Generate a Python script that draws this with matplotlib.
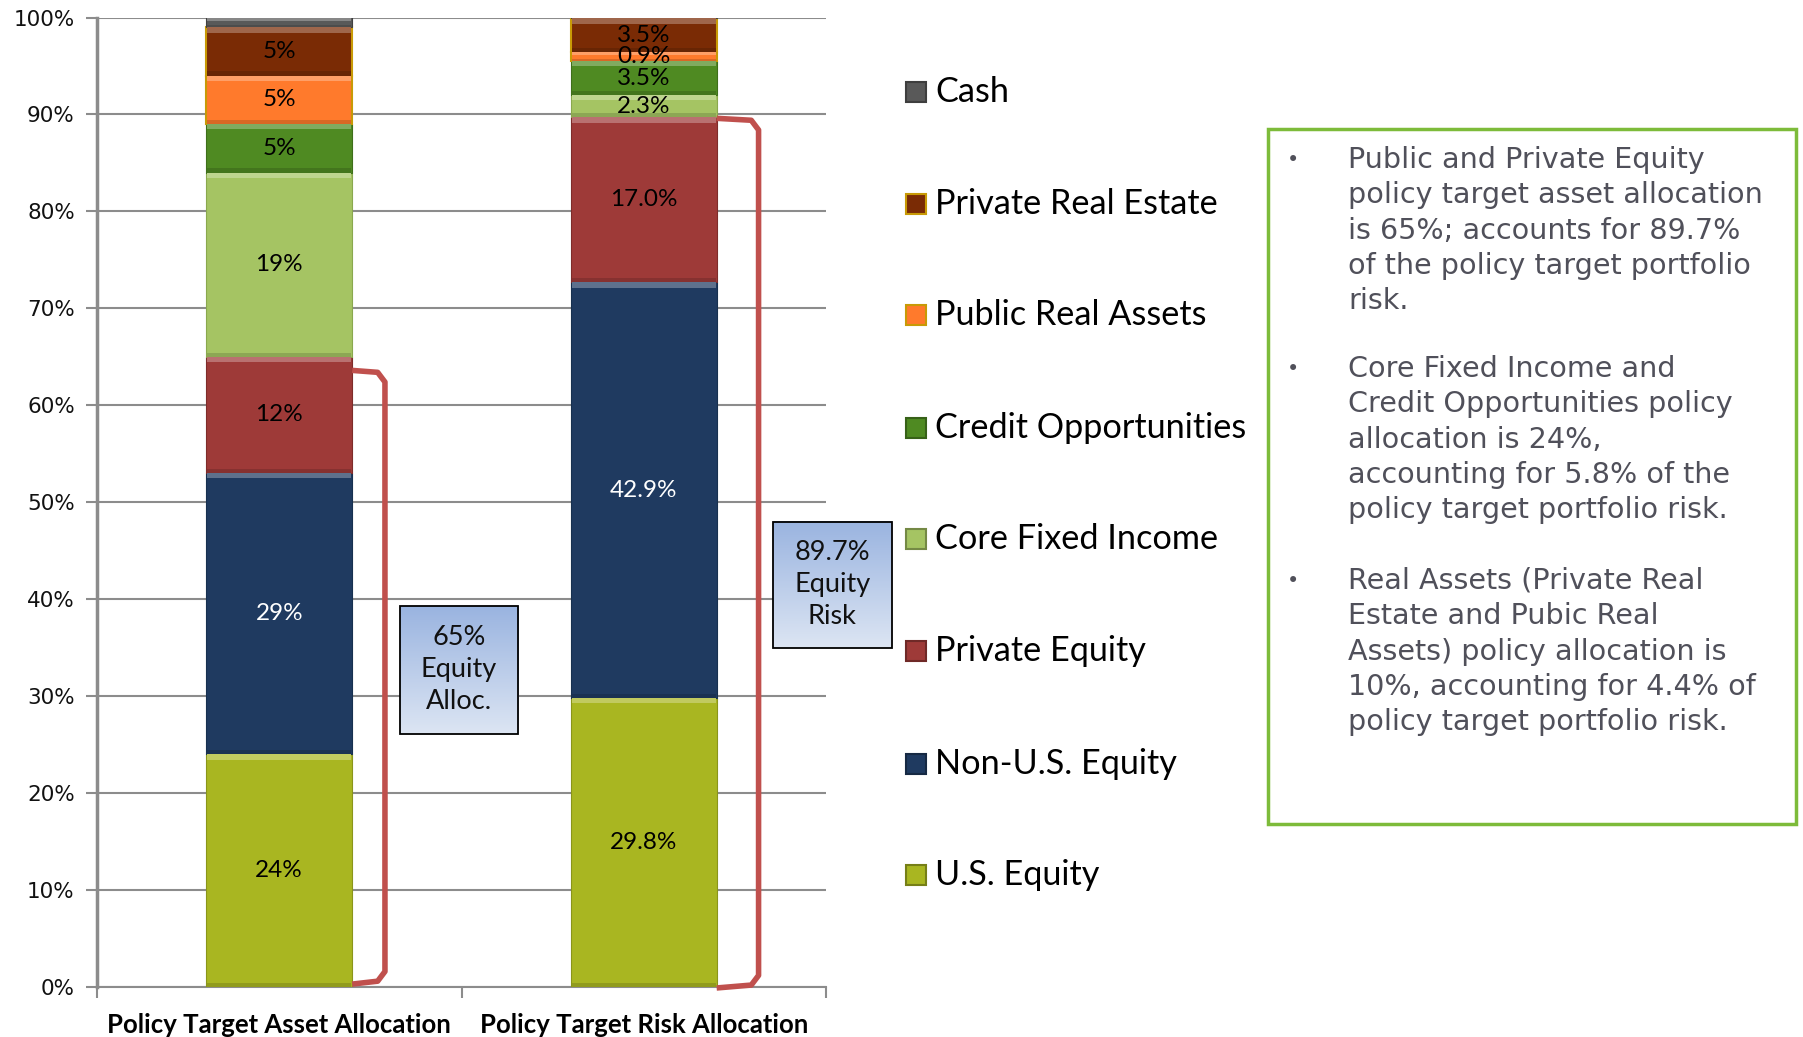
import matplotlib
matplotlib.use("Agg")
import matplotlib.pyplot as plt
import numpy as np
from matplotlib.patches import Rectangle
import matplotlib.colors as mcolors

# ---------------- data ----------------
categories = ["Policy Target Asset Allocation", "Policy Target Risk Allocation"]
series = ["U.S. Equity", "Non-U.S. Equity", "Private Equity", "Core Fixed Income",
          "Credit Opportunities", "Public Real Assets", "Private Real Estate", "Cash"]
asset_alloc = [24, 29, 12, 19, 5, 5, 5, 1]
risk_alloc = [29.8, 42.9, 17.0, 2.3, 3.5, 0.9, 3.5, 0.1]
asset_labels = ["24%", "29%", "12%", "19%", "5%", "5%", "5%", ""]
risk_labels = ["29.8%", "42.9%", "17.0%", "2.3%", "3.5%", "0.9%", "3.5%", ""]
yticks = [0, 10, 20, 30, 40, 50, 60, 70, 80, 90, 100]
ytick_labels = ["0%", "10%", "20%", "30%", "40%", "50%", "60%", "70%", "80%", "90%", "100%"]
equity_alloc_total = 65
equity_risk_total = 89.7
box_texts = ["65%\nEquity\nAlloc.", "89.7%\nEquity\nRisk"]
notes = [
    ["Public and Private Equity", "policy target asset allocation",
     "is 65%; accounts for 89.7%", "of the policy target portfolio", "risk."],
    ["Core Fixed Income and", "Credit Opportunities policy",
     "allocation is 24%,", "accounting for 5.8% of the", "policy target portfolio risk."],
    ["Real Assets (Private Real", "Estate and Pubic Real",
     "Assets) policy allocation is", "10%, accounting for 4.4% of", "policy target portfolio risk."],
]

# ---------------- styles ----------------
colors = ["#A9B621", "#1F3A60", "#9E3A38", "#A5C463", "#4F8A22", "#FF7A2C", "#7A2B05", "#595959"]
edges = ["#8A951A", "#17304F", "#7E2C2A", "#8AA84E", "#3E6F1A", "#C89A06", "#C89A06", "#404040"]
label_colors = ["black", "white", "black", "black", "black", "black", "black", "black"]

W, H = 1803, 1037
fig = plt.figure(figsize=(W / 100, H / 100), dpi=100)
ax = fig.add_axes([97 / W, 1 - 987 / H, (826 - 97) / W, (987 - 17.5) / H])
ax.set_xlim(-0.5, 1.5)
ax.set_ylim(0, 100)

gridc = "#8C8C8C"
ax.set_yticks(yticks)
ax.set_yticklabels(ytick_labels, fontfamily="DejaVu Sans", fontsize=15.5, color="#111111")
ax.yaxis.grid(True, color=gridc, linewidth=1.5)
ax.set_axisbelow(True)
ax.tick_params(axis="y", length=8, width=1.5, color=gridc, pad=8)
ax.set_xticks([0, 1])
ax.set_xticklabels(categories, fontfamily="Lato", fontweight="bold", fontsize=18.5)
ax.set_xticks([-0.5, 0.5, 1.5], minor=True)
ax.tick_params(axis="x", which="major", length=0, pad=19)
ax.tick_params(axis="x", which="minor", length=8, width=1.5, color=gridc)
for s in ["top", "right"]:
    ax.spines[s].set_visible(False)
ax.spines["left"].set_color(gridc)
ax.spines["left"].set_linewidth(2.5)
ax.spines["bottom"].set_color(gridc)
ax.spines["bottom"].set_linewidth(1.5)

bw = 0.40
data = [asset_alloc, risk_alloc]
labels = [asset_labels, risk_labels]
xpos = np.arange(len(categories))

def lighten(c, f):
    r = np.array(mcolors.to_rgb(c))
    return tuple(r + (1 - r) * f)

def darken(c, f):
    r = np.array(mcolors.to_rgb(c))
    return tuple(r * (1 - f))

for ci, vals in enumerate(data):
    bottom = 0.0
    for si, v in enumerate(vals):
        ax.bar(xpos[ci], v, bw, bottom=bottom, color=colors[si],
               edgecolor=edges[si], linewidth=1.5 if si in (5, 6) else 0.8, zorder=3)
        band = min(0.55, v / 3)
        ax.bar(xpos[ci], band, bw * 0.985, bottom=bottom + v - band,
               color=lighten(colors[si], 0.28), linewidth=0, zorder=3.5)
        ax.bar(xpos[ci], band * 0.8, bw * 0.985, bottom=bottom,
               color=darken(colors[si], 0.15), linewidth=0, zorder=3.5)
        if labels[ci][si]:
            ax.text(xpos[ci], bottom + v / 2, labels[ci][si], ha="center", va="center",
                    fontfamily="Lato", fontsize=17.5, color=label_colors[si], zorder=5)
        bottom += v

# brackets
red = "#C0504D"
def bracket(xc, xv, ytop, ybot):
    ax.plot([xc, xv - 0.02, xv, xv, xv - 0.02, xc],
            [ytop, ytop - 0.2, ytop - 1.2, ybot + 1.0, ybot, ybot - 0.3],
            color=red, linewidth=4, solid_joinstyle="round", solid_capstyle="butt",
            clip_on=False, zorder=4)

bracket(0.2, 0.29, equity_alloc_total - 1.4, 0.6)
bracket(1.2, 1.315, equity_risk_total - 0.1, 0.2)

# gradient text boxes
grad = np.linspace(0, 1, 100).reshape(-1, 1)
cmap = mcolors.LinearSegmentedColormap.from_list("bx", ["#DCE5F3", "#9AB4E0"])
def gbox(x0, x1, y0, y1, txt):
    ax.imshow(grad, extent=[x0, x1, y0, y1], origin="lower", cmap=cmap, aspect="auto",
              zorder=4, clip_on=False)
    ax.add_patch(Rectangle((x0, y0), x1 - x0, y1 - y0, fill=False, edgecolor="black",
                           linewidth=1.3, zorder=4.5, clip_on=False))
    ax.text((x0 + x1) / 2, (y0 + y1) / 2, txt, ha="center", va="center", fontfamily="Lato",
            fontsize=19.5, linespacing=1.35, color="#111111", zorder=5, clip_on=False)

gbox(0.33, 0.655, 26.1, 39.3, box_texts[0])
gbox(1.355, 1.68, 35.0, 48.0, box_texts[1])
ax.set_xlim(-0.5, 1.5)
ax.set_ylim(0, 100)

# legend (manual, top to bottom = reverse stacking)
leg_y = [92, 204, 315, 428, 539, 651, 764, 875]
for i, si in enumerate(reversed(range(len(series)))):
    yc = leg_y[i]
    ec = edges[si] if si in (5, 6) else darken(colors[si], 0.3)
    fig.patches.append(Rectangle((906 / W, 1 - (yc + 10) / H), 20 / W, 20 / H,
                                 transform=fig.transFigure, facecolor=colors[si],
                                 edgecolor=ec, linewidth=1.5))
    fig.text(935 / W, 1 - yc / H, series[si], fontfamily="Lato", fontsize=24.7,
             va="center", ha="left", color="black")

# notes box
fig.patches.append(Rectangle((1268 / W, 1 - 824 / H), (1796 - 1268) / W, (824 - 129) / H,
                             transform=fig.transFigure, fill=False, edgecolor="#7DBB3A",
                             linewidth=2.5))
para_y0 = [160, 369, 581]
gray = "#50505A"
for p, lines in enumerate(notes):
    fig.text(1293 / W, 1 - para_y0[p] / H, "\u2022", fontfamily="DejaVu Sans", fontsize=15,
             va="center", ha="center", color=gray)
    for j, line in enumerate(lines):
        fig.text(1348 / W, 1 - (para_y0[p] + j * 35.3) / H, line, fontfamily="DejaVu Sans",
                 fontsize=20.6, va="center", ha="left", color=gray)

fig.savefig("out.png", dpi=100)
